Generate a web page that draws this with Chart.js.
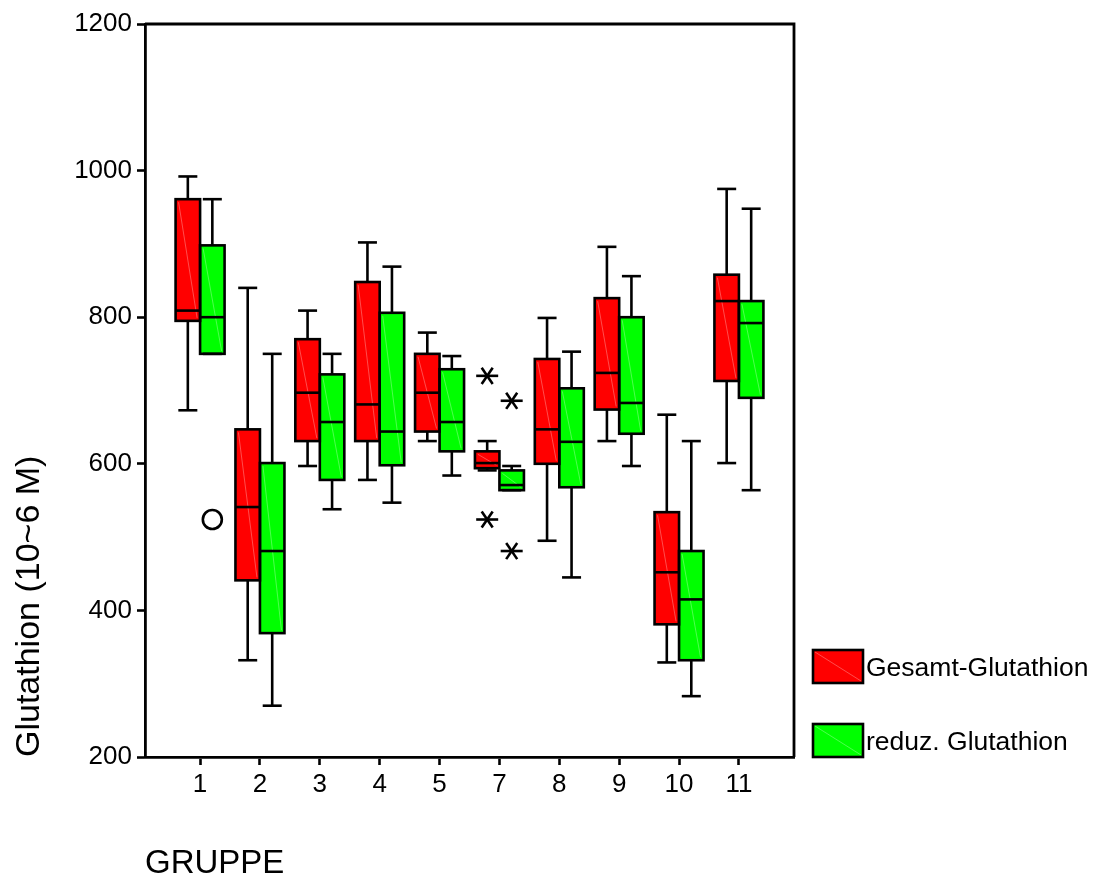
<!DOCTYPE html>
<html>
<head>
<meta charset="utf-8">
<title>Glutathion nach Gruppe</title>
<script src="https://cdn.jsdelivr.net/npm/chart.js@4.4.1/dist/chart.umd.min.js"></script>
<style>
  html, body { margin: 0; padding: 0; background: #ffffff; }
  canvas { display: block; }
</style>
</head>
<body>
<canvas id="chart" width="1103" height="884"></canvas>
<script>
// Groups on the x axis
const groups = ['1', '2', '3', '4', '5', '7', '8', '9', '10', '11'];

const seriesNames = ['Gesamt-Glutathion', 'reduz. Glutathion'];
const seriesColors = ['#ff0000', '#00ff00'];

// Gesamt-Glutathion: five-number summary per group
const gesamtMax    = [992, 840, 809, 902, 779, 631, 799, 896, 667, 975];
const gesamtQ3     = [961, 647, 770, 848, 750, 617, 743, 826, 534, 858];
const gesamtMedian = [809, 541, 697, 681, 697, 601, 647, 724, 452, 822];
const gesamtQ1     = [795, 441, 631, 631, 644, 594, 600, 674, 381, 713];
const gesamtMin    = [673, 332, 597, 578, 631, 591, 495, 631, 329, 601];

// reduz. Glutathion: five-number summary per group
const reduzMax    = [961, 750, 750, 869, 747, 597, 753, 856, 631, 948];
const reduzQ3     = [898, 601, 722, 806, 729, 591, 703, 800, 481, 822];
const reduzMedian = [800, 481, 657, 644, 657, 571, 630, 683, 415, 792];
const reduzQ1     = [750, 369, 578, 598, 617, 564, 568, 641, 332, 690];
const reduzMin    = [750, 270, 538, 547, 584, 564, 445, 597, 283, 564];

// Single points outside the whiskers: [group, value, kind]
// kind 'outlier' = circle, 'extreme' = asterisk
const gesamtOutliers = [['7', 720, 'extreme'], ['7', 524, 'extreme']];
const reduzOutliers  = [['1', 524, 'outlier'], ['7', 686, 'extreme'], ['7', 481, 'extreme']];

// Value axis ticks
const yTicks = [200, 400, 600, 800, 1000, 1200];

const FONT = "'Liberation Sans', Arial, Helvetica, sans-serif";
const LW = 2.6;

const stats = [
  { max: gesamtMax, q3: gesamtQ3, median: gesamtMedian, q1: gesamtQ1, min: gesamtMin, outliers: gesamtOutliers },
  { max: reduzMax,  q3: reduzQ3,  median: reduzMedian,  q1: reduzQ1,  min: reduzMin,  outliers: reduzOutliers }
];

const positions = groups.map((g, i) => i + 1);

// Whiskers, medians, outlines, outliers and the closed frame
const boxPlotPlugin = {
  id: 'boxPlot',
  afterDatasetsDraw(chart) {
    const ctx = chart.ctx;
    const ys = chart.scales.y;
    const line = (x1, y1, x2, y2) => {
      ctx.beginPath(); ctx.moveTo(x1, y1); ctx.lineTo(x2, y2); ctx.stroke();
    };
    ctx.save();
    stats.forEach((s, d) => {
      const meta = chart.getDatasetMeta(d);
      meta.data.forEach((bar, i) => {
        const { x, width } = bar.getProps(['x', 'width'], true);
        const left = x - width / 2;
        const right = x + width / 2;
        const yMax = ys.getPixelForValue(s.max[i]);
        const yQ3 = ys.getPixelForValue(s.q3[i]);
        const yMed = ys.getPixelForValue(s.median[i]);
        const yQ1 = ys.getPixelForValue(s.q1[i]);
        const yMin = ys.getPixelForValue(s.min[i]);

        // faint hatch line across the box fill
        ctx.strokeStyle = 'rgba(255,255,255,0.3)';
        ctx.lineWidth = 1;
        line(left + 3, yQ3 + 3, right - 3, yQ1 - 3);

        ctx.strokeStyle = '#000';
        ctx.lineWidth = LW;
        ctx.lineCap = 'butt';
        // whiskers and caps
        line(x, yQ3, x, yMax);
        line(x, yQ1, x, yMin);
        line(x - 9.5, yMax, x + 9.5, yMax);
        line(x - 9.5, yMin, x + 9.5, yMin);
        // box outline and median
        ctx.strokeRect(left, yQ3, width, yQ1 - yQ3);
        line(left, yMed, right, yMed);
      });

      // outliers
      s.outliers.forEach(([g, v, kind]) => {
        const bar = meta.data[groups.indexOf(g)];
        const x = bar.x;
        const y = ys.getPixelForValue(v);
        ctx.strokeStyle = '#000';
        ctx.lineWidth = LW;
        if (kind === 'outlier') {
          ctx.beginPath();
          ctx.arc(x, y, 9.5, 0, Math.PI * 2);
          ctx.stroke();
        } else {
          const r = 11;
          for (let k = 0; k < 3; k++) {
            const a = k * Math.PI / 3;
            line(x - r * Math.cos(a), y - r * Math.sin(a) * 0.85,
                 x + r * Math.cos(a), y + r * Math.sin(a) * 0.85);
          }
        }
      });
    });
    ctx.restore();
  },
  afterDraw(chart) {
    const ctx = chart.ctx;
    const a = chart.chartArea;
    ctx.save();
    // top and right edges of the frame
    ctx.strokeStyle = '#000';
    ctx.lineWidth = 2.8;
    ctx.beginPath();
    ctx.moveTo(a.left, a.top);
    ctx.lineTo(a.right, a.top);
    ctx.lineTo(a.right, a.bottom);
    ctx.stroke();

    // legend
    const lx = 813, bw = 50, bh = 33;
    const tops = [650, 724];
    ctx.font = '26.5px ' + FONT;
    ctx.textBaseline = 'middle';
    ctx.textAlign = 'left';
    seriesNames.forEach((name, i) => {
      const ty = tops[i];
      ctx.fillStyle = seriesColors[i];
      ctx.fillRect(lx, ty, bw, bh);
      ctx.strokeStyle = 'rgba(255,255,255,0.3)';
      ctx.lineWidth = 1;
      ctx.beginPath(); ctx.moveTo(lx + 2, ty + 2); ctx.lineTo(lx + bw - 2, ty + bh - 2); ctx.stroke();
      ctx.strokeStyle = '#000';
      ctx.lineWidth = LW;
      ctx.strokeRect(lx, ty, bw, bh);
      ctx.fillStyle = '#000';
      ctx.fillText(name, lx + bw + 3, ty + bh / 2 + 2);
    });
    ctx.restore();
  }
};

Chart.defaults.font.family = FONT;
Chart.defaults.color = '#000';

new Chart(document.getElementById('chart'), {
  type: 'bar',
  data: {
    datasets: stats.map((s, d) => ({
      label: seriesNames[d],
      data: positions.map((p, i) => ({ x: p, y: [s.q1[i], s.q3[i]] })),
      backgroundColor: seriesColors[d],
      borderWidth: 0,
      barThickness: 24.5
    }))
  },
  options: {
    responsive: false,
    animation: false,
    devicePixelRatio: 1,
    layout: { padding: { left: 0, top: 24, right: 309, bottom: 0 } },
    plugins: { legend: { display: false }, tooltip: { enabled: false } },
    scales: {
      x: {
        type: 'linear',
        offset: false,
        min: 0.08,
        max: groups.length + 0.92,
        afterBuildTicks: (scale) => { scale.ticks = positions.map(v => ({ value: v })); },
        afterFit: (scale) => { scale.height = 127; },
        ticks: {
          callback: (value, index) => groups[index],
          font: { size: 26 },
          padding: 4,
          maxRotation: 0,
          autoSkip: false
        },
        grid: { drawOnChartArea: false, offset: false, tickLength: 8, tickColor: '#000', tickWidth: 2.6 },
        border: { color: '#000', width: 2.8 },
        title: {
          display: true,
          text: 'GRUPPE',
          align: 'start',
          font: { size: 33 },
          padding: { top: 0, bottom: 0 }
        }
      },
      y: {
        min: 200,
        max: 1200,
        afterBuildTicks: (scale) => { scale.ticks = yTicks.map(v => ({ value: v })); },
        afterFit: (scale) => { scale.width = 145; },
        ticks: { callback: (value) => String(value), font: { size: 26 }, padding: 5 },
        grid: { drawOnChartArea: false, tickLength: 8, tickColor: '#000', tickWidth: 2.6 },
        border: { color: '#000', width: 2.8 },
        title: {
          display: true,
          text: 'Glutathion (10~6 M)',
          align: 'start',
          font: { size: 34 },
          padding: { top: 9, bottom: 0 }
        }
      }
    }
  },
  plugins: [boxPlotPlugin]
});
</script>
</body>
</html>
